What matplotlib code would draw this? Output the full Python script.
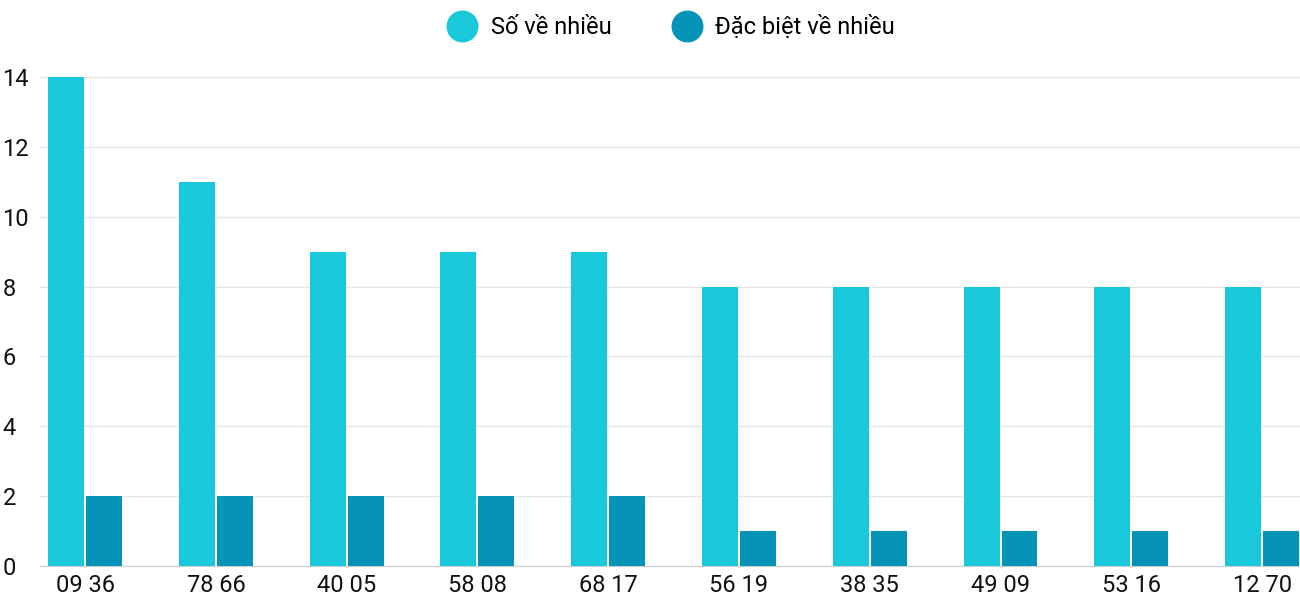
import matplotlib
matplotlib.use("Agg")
import matplotlib.pyplot as plt
import numpy as np
from matplotlib.lines import Line2D

categories = ["09 36", "78 66", "40 05", "58 08", "68 17", "56 19", "38 35", "49 09", "53 16", "12 70"]
so_ve_nhieu = [14, 11, 9, 9, 9, 8, 8, 8, 8, 8]
dac_biet = [2, 2, 2, 2, 2, 1, 1, 1, 1, 1]

plt.rcParams['font.family'] = ['Roboto', 'DejaVu Sans']
c1, c2 = "#1AC8DB", "#0693B8"
fig = plt.figure(figsize=(13, 6), dpi=100)
ax = fig.add_axes([40/1300, 1-566/600, 1-40/1300, (566-77)/600])
x = np.arange(len(categories))
w = 0.275
off = 0.145
ax.bar(x - off, so_ve_nhieu, w, color=c1, zorder=3)
ax.bar(x + off, dac_biet, w, color=c2, zorder=3)
ax.set_xlim(-0.345, 9.29)
ax.set_ylim(0, 14)
ax.set_yticks(range(0, 15, 2))
ax.set_xticks(x)
ax.set_xticklabels(categories)
ax.tick_params(axis='both', length=0, labelsize=17, colors='#111111')
ax.tick_params(axis='x', pad=6)
for lbl in ax.get_yticklabels():
    lbl.set_horizontalalignment('left')
ax.yaxis.set_tick_params(pad=27)
ax.grid(axis='y', color='#e6e6e6', linewidth=1, zorder=0)
for s in ax.spines.values():
    s.set_visible(False)
ax.spines['bottom'].set_visible(True)
ax.spines['bottom'].set_color('#cccccc')
handles = [Line2D([], [], marker='o', linestyle='', markersize=22, color=c1),
           Line2D([], [], marker='o', linestyle='', markersize=22, color=c2)]
fig.legend(handles, ["Số về nhiều", "Đặc biệt về nhiều"], loc='upper center',
           bbox_to_anchor=(0.513, 1.01), ncol=2, frameon=False, fontsize=17,
           handletextpad=0.2, columnspacing=2.2)
fig.savefig("out.png", dpi=100)
